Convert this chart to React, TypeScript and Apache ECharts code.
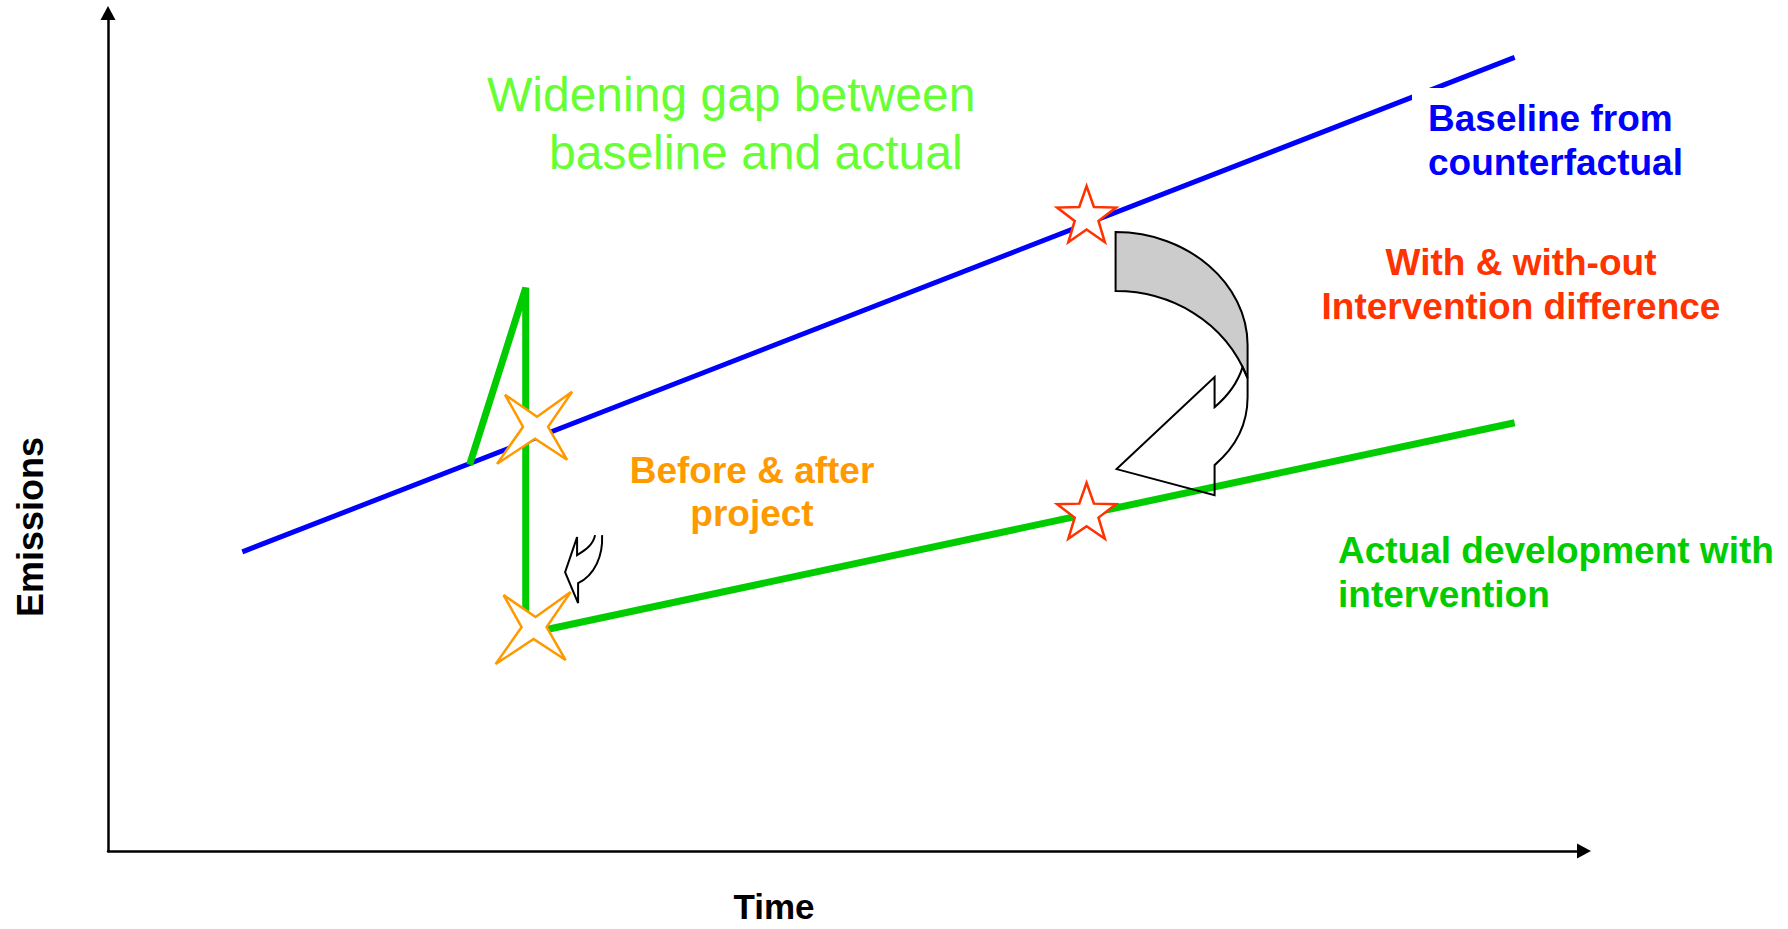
import React, { useEffect, useRef } from "react";
import * as echarts from "echarts";

// ---- data (abstract time / emissions units, 0..100) ----
const axisMin = 0;
const axisMax = 100;
const baselineSeries = [
  [9.1, 35.7],
  [95.3, 94.7],
];
const actualSeries = [
  [24.5, 46.1],
  [28.3, 67.2],
  [28.3, 25.9],
  [95.3, 51.1],
];
const beforeAfterStars = [
  [28.9, 50.5],
  [28.8, 26.6],
];
const withWithoutStars = [
  [66.3, 76.0],
  [66.3, 40.6],
];

// ---- shapes (relative to anchors) ----
const BIG_BACK =
  "M29 18 C102 18 161 70 161 131 L161 164 C138 106 83 77 29 77 Z";
const BIG_FRONT =
  "M161 164 L161 183 C161 211 148 234 128 251 L128 281 L30 255 L128 163 L128 193 C141 182 151 169 156 153 Z";
const SMALL_ARROW =
  "M62 -93 C60 -83 52 -78 44 -73 L44 -91 L32 -56 L45 -25 L45 -45 C62 -53 70 -73 69 -93";

echarts.graphic.registerShape("bigArrowBack", echarts.graphic.extendPath(BIG_BACK, {}));
echarts.graphic.registerShape("bigArrowFront", echarts.graphic.extendPath(BIG_FRONT, {}));
echarts.graphic.registerShape("smallArrow", echarts.graphic.extendPath(SMALL_ARROW, {}));

const FOUR_STAR = "path://M-30,-32L2,-10L37,-35L13,0L32,33L0,12L-38,37L-12,0Z";
function fiveStar(R: number, r: number) {
  const pts: string[] = [];
  for (let i = 0; i < 10; i++) {
    const a = -Math.PI / 2 + (i * Math.PI) / 5;
    const rad = i % 2 ? r : R;
    pts.push(`${(rad * Math.cos(a)).toFixed(2)},${(rad * Math.sin(a)).toFixed(2)}`);
  }
  return "path://M" + pts.join("L") + "Z";
}

const FONT = "'Liberation Sans', Arial, sans-serif";

type Lbl = { text: string; x: number; y: number; size: number; bold: boolean; color: string; align: string; rot?: number; lh?: number };
const labels: Lbl[] = [
  { text: "Widening gap between", x: 487, y: 94, size: 48, bold: false, color: "#66ff33", align: "left" },
  { text: "baseline and actual", x: 549, y: 152, size: 48, bold: false, color: "#66ff33", align: "left" },
  { text: "Before & after", x: 752, y: 470, size: 37, bold: true, color: "#ff9900", align: "center" },
  { text: "project", x: 752, y: 513, size: 37, bold: true, color: "#ff9900", align: "center" },
  { text: "Baseline from", x: 1428, y: 118, size: 37, bold: true, color: "#0000ff", align: "left" },
  { text: "counterfactual", x: 1428, y: 162, size: 37, bold: true, color: "#0000ff", align: "left" },
  { text: "With & with-out", x: 1521, y: 262, size: 37, bold: true, color: "#ff3300", align: "center" },
  { text: "Intervention difference", x: 1521, y: 306, size: 37, bold: true, color: "#ff3300", align: "center" },
  { text: "Actual development with", x: 1338, y: 550, size: 37, bold: true, color: "#00cc00", align: "left" },
  { text: "intervention", x: 1338, y: 594, size: 37, bold: true, color: "#00cc00", align: "left" },
  { text: "Time", x: 774, y: 906, size: 35, bold: true, color: "#000000", align: "center", lh: 30 },
  { text: "Emissions", x: 30, y: 527, size: 36, bold: true, color: "#000000", align: "center", rot: Math.PI / 2 },
];

export default function App() {
  const ref = useRef<HTMLDivElement>(null);
  useEffect(() => {
    document.body.style.margin = "0";
    document.body.style.overflow = "hidden";
    const chart = echarts.init(ref.current!, null, { renderer: "svg" });
    const axisCommon = {
      type: "value",
      min: axisMin,
      max: axisMax,
      axisLine: {
        show: true,
        onZero: false,
        symbol: ["none", "triangle"],
        symbolSize: [15, 14],
        lineStyle: { color: "#000", width: 2.5 },
      },
      axisTick: { show: false },
      axisLabel: { show: false },
      splitLine: { show: false },
    };
    chart.setOption({
      animation: false,
      backgroundColor: "#ffffff",
      grid: { left: 108, top: 13, width: 1476, height: 838 },
      xAxis: axisCommon,
      yAxis: axisCommon,
      series: [
        {
          type: "line",
          data: baselineSeries,
          showSymbol: false,
          lineStyle: { color: "#0000ff", width: 5, cap: "butt" },
          z: 2,
        },
        {
          type: "line",
          data: actualSeries,
          showSymbol: false,
          lineStyle: { color: "#00cc00", width: 7, cap: "butt", join: "bevel" },
          z: 2,
        },
        {
          type: "scatter",
          data: beforeAfterStars,
          symbol: FOUR_STAR,
          symbolSize: [75, 72],
          itemStyle: { color: "#ffffff", borderColor: "#ff9900", borderWidth: 2.5, opacity: 1 },
          z: 4,
        },
        {
          type: "scatter",
          data: withWithoutStars,
          symbol: fiveStar(31, 12.5),
          symbolSize: [59, 56],
          itemStyle: { color: "#ffffff", borderColor: "#ff3300", borderWidth: 2.5, opacity: 1 },
          z: 4,
        },
      ],
    });

    const big = chart.convertToPixel({ gridIndex: 0 }, withWithoutStars[0]) as number[];
    const small = chart.convertToPixel({ gridIndex: 0 }, beforeAfterStars[1]) as number[];

    const graphics: any[] = [
      {
        type: "rect",
        shape: { x: 1412, y: 88, width: 300, height: 100 },
        style: { fill: "#ffffff" },
        z: 10,
      },
      {
        type: "bigArrowBack",
        x: big[0],
        y: big[1],
        style: { fill: "#cccccc", stroke: "#000000", lineWidth: 2 },
        z: 6,
      },
      {
        type: "bigArrowFront",
        x: big[0],
        y: big[1],
        style: { fill: "none", stroke: "#000000", lineWidth: 2 },
        z: 6,
      },
      {
        type: "smallArrow",
        x: small[0],
        y: small[1],
        style: { fill: "none", stroke: "#000000", lineWidth: 2 },
        z: 6,
      },
      ...labels.map((l) => ({
        type: "text",
        x: l.x,
        y: l.y,
        rotation: l.rot || 0,
        z: 11,
        style: {
          text: l.text,
          fill: l.color,
          font: `${l.bold ? "bold " : ""}${l.size}px ${FONT}`,
          align: l.align,
          verticalAlign: "middle",
          ...(l.lh ? { lineHeight: l.lh } : {}),
        },
      })),
    ];
    chart.setOption({ graphic: graphics });
    return () => chart.dispose();
  }, []);
  return (
    <div
      ref={ref}
      style={{ position: "absolute", left: 0, top: 0, width: 1788, height: 929, background: "#fff" }}
    />
  );
}
